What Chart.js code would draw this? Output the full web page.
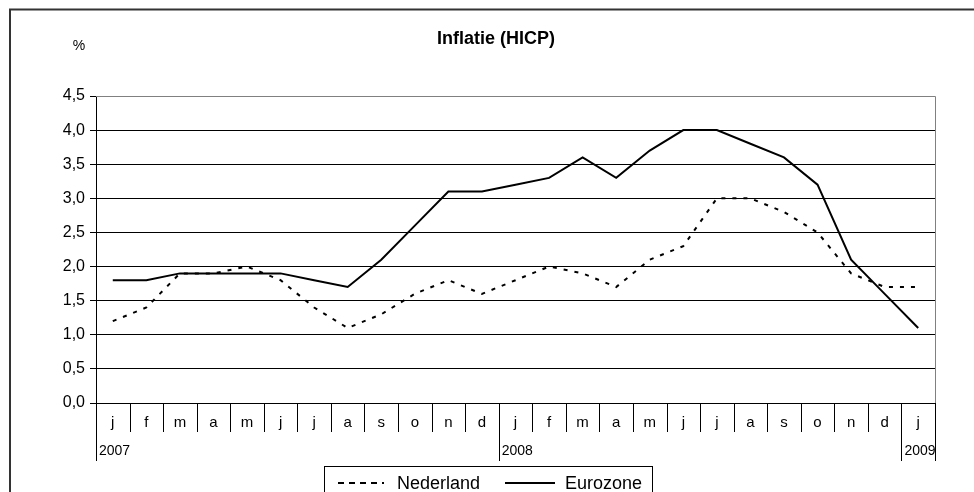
<!DOCTYPE html>
<html>
<head>
<meta charset="utf-8">
<script src="https://cdn.jsdelivr.net/npm/chart.js@4.4.1/dist/chart.umd.min.js"></script>
<style>
html,body{margin:0;padding:0;background:#fff;}
#wrap{width:974px;height:492px;position:relative;}
</style>
</head>
<body>
<div id="wrap"><canvas id="c" width="974" height="492"></canvas></div>
<script>
const months = ['j','f','m','a','m','j','j','a','s','o','n','d','j','f','m','a','m','j','j','a','s','o','n','d','j'];
const yearLabels = {0:'2007', 12:'2008', 24:'2009'};
const nederland = [1.2,1.4,1.9,1.9,2.0,1.8,1.4,1.1,1.3,1.6,1.8,1.6,1.8,2.0,1.9,1.7,2.1,2.3,3.0,3.0,2.8,2.5,1.9,1.7,1.7];
const eurozone  = [1.8,1.8,1.9,1.9,1.9,1.9,1.8,1.7,2.1,2.6,3.1,3.1,3.2,3.3,3.6,3.3,3.7,4.0,4.0,3.8,3.6,3.2,2.1,1.6,1.1];
const seriesNames = ['Nederland','Eurozone'];
const titleText = 'Inflatie (HICP)';
const unitText = '%';

const FONT = '"Liberation Sans", Arial, sans-serif';

const decor = {
  id: 'decor',
  afterDraw(chart) {
    const ctx = chart.ctx;
    const ca = chart.chartArea;
    const xs = chart.scales.x;
    ctx.save();
    // outer frame
    ctx.strokeStyle = '#333';
    ctx.lineWidth = 2;
    ctx.strokeRect(10, 9.5, 990, 520);
    // title
    ctx.fillStyle = '#000';
    ctx.font = 'bold 18px ' + FONT;
    ctx.textAlign = 'center';
    ctx.textBaseline = 'alphabetic';
    ctx.fillText(titleText, 496, 44);
    ctx.font = '14px ' + FONT;
    ctx.fillText(unitText, 79, 50);
    // plot border right/top (gray)
    ctx.strokeStyle = '#808080';
    ctx.lineWidth = 1;
    ctx.beginPath();
    ctx.moveTo(ca.left, Math.round(ca.top) + 0.5);
    ctx.lineTo(Math.round(ca.right) + 0.5, Math.round(ca.top) + 0.5);
    ctx.lineTo(Math.round(ca.right) + 0.5, Math.round(ca.bottom));
    ctx.stroke();
    // x axis line
    ctx.strokeStyle = '#000';
    ctx.beginPath();
    ctx.moveTo(ca.left, Math.round(ca.bottom) + 0.5);
    ctx.lineTo(ca.right + 1, Math.round(ca.bottom) + 0.5);
    ctx.stroke();
    // category boundaries
    const w = xs.getPixelForValue(1) - xs.getPixelForValue(0);
    const n = months.length;
    for (let k = 0; k <= n; k++) {
      const bx = Math.round(xs.getPixelForValue(k) - w / 2) + 0.5;
      const long = (yearLabels[k] !== undefined) || k === n;
      ctx.strokeStyle = '#000';
      ctx.beginPath();
      ctx.moveTo(bx, Math.round(ca.bottom));
      ctx.lineTo(bx, long ? 461 : 432);
      ctx.stroke();
    }
    // month labels
    ctx.fillStyle = '#000';
    ctx.font = '15px ' + FONT;
    ctx.textAlign = 'center';
    months.forEach((m, i) => {
      ctx.fillText(m, xs.getPixelForValue(i), 427);
    });
    // year labels
    ctx.textAlign = 'left';
    ctx.font = '14px ' + FONT;
    Object.keys(yearLabels).forEach(k => {
      const bx = xs.getPixelForValue(+k) - w / 2;
      ctx.fillText(yearLabels[k], bx + 3, 455);
    });
    // legend
    ctx.strokeStyle = '#000';
    ctx.lineWidth = 1;
    ctx.strokeRect(324.5, 466.5, 328, 40);
    ctx.lineWidth = 2;
    ctx.setLineDash([6, 5]);
    ctx.beginPath();
    ctx.moveTo(338, 483);
    ctx.lineTo(384, 483);
    ctx.stroke();
    ctx.setLineDash([]);
    ctx.beginPath();
    ctx.moveTo(505, 483);
    ctx.lineTo(555, 483);
    ctx.stroke();
    ctx.font = '18px ' + FONT;
    ctx.fillText(seriesNames[0], 397, 489);
    ctx.fillText(seriesNames[1], 565, 489);
    ctx.restore();
  }
};

new Chart(document.getElementById('c'), {
  type: 'line',
  data: {
    labels: months,
    datasets: [
      { label: seriesNames[0], data: nederland, borderColor: '#000', borderWidth: 2, borderDash: [4, 7], pointRadius: 0, tension: 0, fill: false },
      { label: seriesNames[1], data: eurozone, borderColor: '#000', borderWidth: 2, pointRadius: 0, tension: 0, fill: false }
    ]
  },
  options: {
    responsive: false,
    animation: false,
    devicePixelRatio: 1,
    layout: { padding: { top: 96, right: 39, left: 0, bottom: 89 } },
    plugins: { legend: { display: false }, title: { display: false }, tooltip: { enabled: false } },
    scales: {
      x: { display: false, offset: true },
      y: {
        min: 0, max: 4.5,
        afterFit(scale) { scale.width = 96; },
        ticks: {
          stepSize: 0.5,
          color: '#000',
          font: { family: FONT, size: 16 },
          padding: 5,
          callback: v => v.toFixed(1).replace('.', ',')
        },
        grid: {
          color: c => (c.tick && c.tick.value === 4.5) ? '#808080' : '#000',
          tickColor: '#000',
          tickLength: 6,
          lineWidth: 1
        },
        border: { display: true, color: '#000', width: 1 }
      }
    }
  },
  plugins: [decor]
});
</script>
</body>
</html>
